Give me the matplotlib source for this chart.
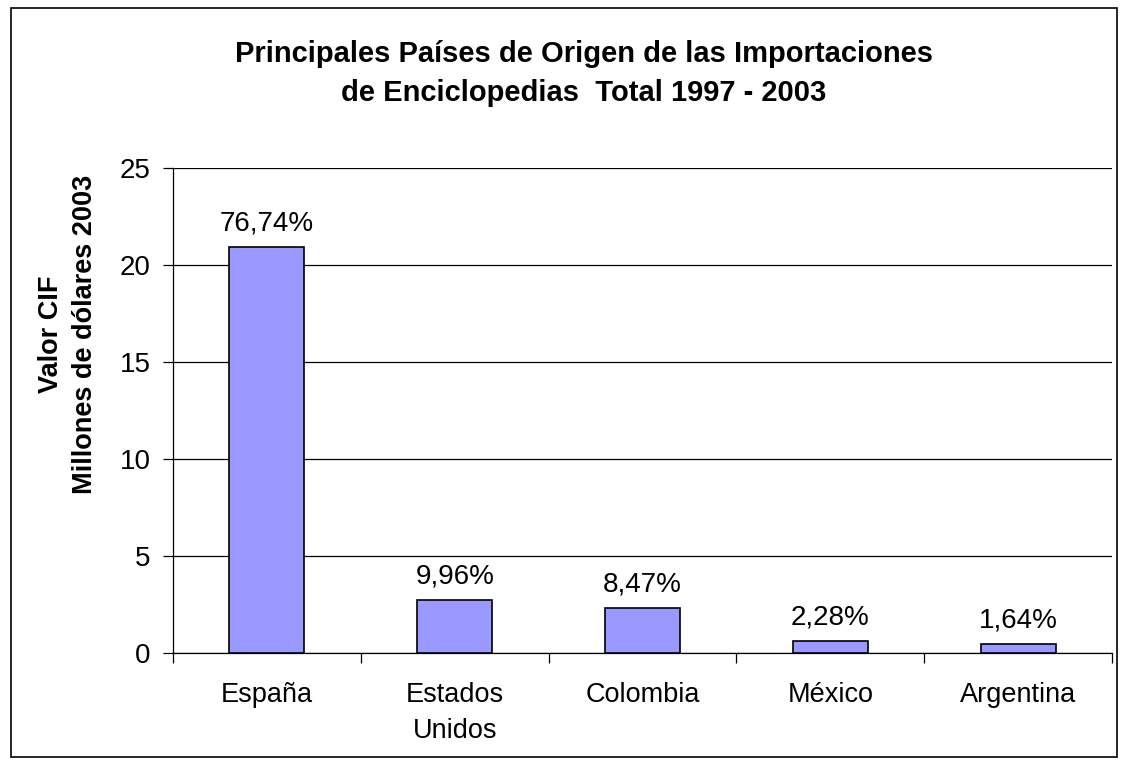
import matplotlib
matplotlib.use("Agg")
import matplotlib.pyplot as plt
from matplotlib.patches import Rectangle

categories = ["España", "Estados\nUnidos", "Colombia", "México", "Argentina"]
values = [20.93, 2.72, 2.31, 0.62, 0.45]
pct_labels = ["76,74%", "9,96%", "8,47%", "2,28%", "1,64%"]
yticks = [0, 5, 10, 15, 20, 25]

plt.rcParams['font.family'] = ['Liberation Sans', 'DejaVu Sans']

W, H = 1125, 765
fig = plt.figure(figsize=(W / 100, H / 100), dpi=100)
fig.patches.append(Rectangle((11 / W, 1 - 757 / H), 1106 / W, 749 / H,
                             transform=fig.transFigure, fill=False,
                             edgecolor='black', linewidth=1.2))

ax = fig.add_axes([173 / W, 1 - 653 / H, 939 / W, 485 / H])
x = list(range(len(categories)))
ax.bar(x, values, width=0.4, color='#9999FF', edgecolor='black',
       linewidth=1.2, zorder=3)
for xi, v, lab in zip(x, values, pct_labels):
    ax.annotate(lab, (xi, v), xytext=(0, 12), textcoords='offset points',
                ha='center', va='baseline', fontsize=20)

ax.set_xlim(-0.5, len(categories) - 0.5)
ax.set_ylim(0, 25)
ax.set_yticks(yticks)
ax.set_yticklabels([str(t) for t in yticks], fontsize=20)
ax.yaxis.grid(True, color='black', linewidth=0.9, zorder=0)
ax.set_axisbelow(True)

ax.set_xticks(x)
ax.set_xticklabels(categories, fontsize=19.5, linespacing=1.48)
ax.tick_params(axis='x', length=0, pad=21)
ax.set_xticks([i - 0.5 for i in range(len(categories) + 1)], minor=True)
ax.tick_params(axis='x', which='minor', length=7, direction='out', width=0.9)
ax.tick_params(axis='y', length=7, direction='out', width=0.9, pad=9)

for s in ['top', 'right']:
    ax.spines[s].set_visible(False)
ax.spines['left'].set_linewidth(0.9)
ax.spines['bottom'].set_linewidth(0.9)

fig.text(68 / W, 1 - 334 / H, "Valor CIF\nMillones de dólares 2003",
         rotation=90, ha='center', va='center', multialignment='center',
         fontsize=19.5, fontweight='bold', linespacing=1.45)

fig.text(584 / W, 1 - 62 / H, "Principales Países de Origen de las Importaciones",
         ha='center', va='baseline', fontsize=21, fontweight='bold')
fig.text(584 / W, 1 - 101 / H, "de Enciclopedias  Total 1997 - 2003",
         ha='center', va='baseline', fontsize=21, fontweight='bold')

fig.savefig("out.png", dpi=100)
